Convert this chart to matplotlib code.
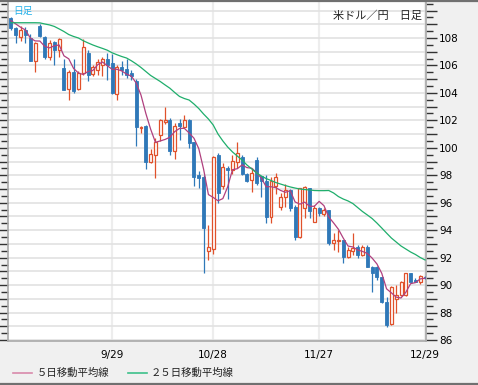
import numpy as np
import pandas as pd
import matplotlib
matplotlib.use("Agg")
import matplotlib.pyplot as plt
from matplotlib.ticker import MultipleLocator, FuncFormatter
from matplotlib.lines import Line2D

plt.rcParams['font.family'] = ['DejaVu Sans', 'Noto Sans CJK JP']

# daily USD/JPY candles, 2008/08/29 .. 2008/12/29
opens = [109.43, 108.75, 108.10, 108.60, 108.00, 106.30, 108.90, 108.10, 106.65, 107.70,
         107.13, 105.80, 104.25, 105.55, 104.25, 105.45, 106.90, 105.40, 105.65, 106.05,
         106.45, 106.20, 103.95, 105.90, 105.75, 105.45, 104.90, 101.45, 101.60, 99.00,
         99.50, 100.90, 101.85, 102.05, 99.80, 101.80, 101.55, 102.05, 100.40, 98.00,
         97.85, 92.45, 92.60, 99.47, 97.20, 98.50, 98.38, 98.99, 99.35, 98.09,
         97.65, 99.10, 97.94, 97.60, 94.98, 97.20, 95.71, 96.39, 96.93, 95.71,
         93.53, 95.59, 97.05, 94.62, 95.59, 95.20, 95.47, 93.10, 93.20, 93.28,
         92.07, 92.45, 92.75, 92.20, 92.75, 91.34, 91.34, 90.57, 88.79, 87.17,
         89.00, 89.28, 89.28, 90.86, 90.40, 90.25, 90.60]
highs = [109.55, 108.80, 108.90, 108.80, 108.30, 107.70, 109.00, 108.15, 107.85, 107.80,
         108.00, 106.50, 105.70, 106.50, 105.60, 107.90, 107.10, 106.05, 106.50, 106.60,
         106.90, 106.80, 106.00, 106.30, 106.50, 105.70, 105.00, 101.60, 101.65, 99.90,
         100.70, 102.10, 102.95, 102.20, 101.80, 102.10, 102.40, 102.10, 100.45, 98.30,
         98.00, 94.40, 99.40, 99.60, 98.90, 98.70, 99.50, 100.45, 99.50, 98.20,
         98.50, 99.30, 97.95, 98.00, 97.90, 98.20, 96.70, 97.40, 97.00, 95.80,
         97.10, 97.20, 97.10, 95.83, 95.70, 95.60, 95.50, 93.77, 94.00, 93.30,
         92.80, 93.77, 92.90, 92.90, 92.90, 91.40, 91.40, 90.60, 89.10, 89.90,
         90.00, 90.30, 90.90, 90.90, 90.50, 90.73, 90.65]
lows = [108.58, 107.65, 107.75, 107.60, 106.30, 105.55, 108.10, 106.50, 106.40, 106.05,
        106.60, 104.20, 103.45, 104.00, 104.20, 105.30, 104.90, 105.20, 105.30, 105.20,
        104.95, 103.90, 103.45, 105.30, 105.10, 104.95, 100.10, 101.05, 98.45, 98.90,
        97.80, 100.50, 101.70, 99.50, 99.20, 100.60, 101.50, 100.00, 97.20, 97.10,
        90.90, 91.80, 92.30, 95.95, 97.00, 96.30, 98.10, 98.50, 98.00, 97.50,
        96.80, 97.30, 96.40, 94.50, 94.50, 96.60, 95.50, 95.70, 95.40, 93.30,
        93.40, 94.90, 94.90, 94.60, 95.00, 95.00, 92.90, 92.56, 92.40, 91.60,
        92.00, 92.20, 92.00, 92.10, 91.30, 89.50, 90.40, 88.70, 86.97, 87.10,
        87.95, 89.20, 89.20, 90.20, 90.20, 90.10, 90.45]
closes = [108.70, 108.20, 108.58, 108.20, 106.35, 107.60, 108.15, 106.65, 107.65, 107.10,
          107.90, 104.20, 105.55, 104.15, 105.45, 107.35, 105.30, 105.90, 106.25, 106.45,
          106.00, 104.00, 105.90, 105.65, 105.30, 105.25, 101.50, 101.50, 99.00, 99.55,
          100.45, 102.00, 102.05, 99.80, 101.60, 101.60, 102.05, 100.35, 97.90, 97.80,
          94.13, 92.80, 99.30, 96.68, 98.60, 98.40, 99.06, 99.64, 98.09, 97.60,
          98.19, 97.46, 97.60, 94.98, 97.60, 97.85, 96.44, 96.93, 95.59, 93.48,
          97.05, 97.17, 95.42, 95.59, 95.27, 95.47, 93.04, 93.28, 93.28, 92.07,
          92.56, 92.70, 92.19, 92.75, 91.34, 90.86, 90.57, 88.79, 87.09, 89.88,
          89.30, 90.25, 90.86, 90.25, 90.25, 90.66, 90.50]

# 25-day moving average as drawn (starts before the first visible candle)
ma25 = [109.11, 109.11, 109.11, 109.11, 109.11, 109.11, 109.10, 109.02, 108.95, 108.84,
        108.66, 108.47, 108.25, 108.11, 108.00, 107.80, 107.64, 107.49, 107.36, 107.24,
        107.11, 106.92, 106.78, 106.65, 106.54, 106.34, 106.11, 105.85, 105.56, 105.27,
        105.05, 104.83, 104.58, 104.34, 104.03, 103.74, 103.59, 103.48, 103.19, 102.86,
        102.46, 102.10, 101.66, 101.00, 100.50, 100.06, 99.70, 99.40, 99.11, 98.75,
        98.46, 98.17, 97.95, 97.76, 97.62, 97.47, 97.36, 97.25, 97.15, 97.07,
        97.00, 96.96, 96.93, 96.89, 96.88, 96.88, 96.89, 96.71, 96.45, 96.27,
        96.13, 95.94, 95.65, 95.36, 95.11, 94.85, 94.52, 94.16, 93.79, 93.43,
        93.14, 92.85, 92.63, 92.41, 92.23, 92.01, 91.83]
# first four 5-day MA points (need closes from before the chart)
ma5_head = [109.26, 109.02, 108.78, 108.58]

date_pos = [21, 42, 64, 86]
date_labels = ['9/29', '10/28', '11/27', '12/29']

ma5 = pd.Series(closes).rolling(5).mean().to_numpy()
ma5[:4] = ma5_head

blue = '#2f78b8'
red = '#e0512b'

fig = plt.figure(figsize=(4.78, 3.85), dpi=100, facecolor='#f0f0f0')
ax = fig.add_axes([8 / 478, 44 / 385, 418 / 478, 339 / 385])
ax.set_facecolor('white')

x = np.arange(len(closes))
o = np.array(opens)
c = np.array(closes)
hi = np.array(highs)
lo = np.array(lows)
up = c >= o

ax.vlines(x[up], lo[up], hi[up], color=red, lw=0.9, zorder=3)
ax.vlines(x[~up], lo[~up], hi[~up], color=blue, lw=0.9, zorder=3)

body_lo = np.minimum(o, c)
body_h = np.maximum(np.abs(c - o), 0.06)
ax.bar(x[up], body_h[up], bottom=body_lo[up], width=0.62, facecolor='white',
       edgecolor=red, linewidth=0.9, zorder=4)
ax.bar(x[~up], body_h[~up], bottom=body_lo[~up], width=0.62, facecolor=blue,
       edgecolor=blue, linewidth=0.6, zorder=4)

ax.plot(x, ma5, color='#b0407f', lw=0.9, zorder=5)
ax.plot(x, ma25, color='#1fae6c', lw=0.9, zorder=5)

ax.set_xlim(-0.62, 86.19)
ax.set_ylim(85.93, 110.62)

ax.yaxis.set_major_locator(MultipleLocator(1))
ax.yaxis.set_minor_locator(MultipleLocator(0.5))
ax.yaxis.set_major_formatter(
    FuncFormatter(lambda v, p: f'{v:.0f}' if round(v) % 2 == 0 and v < 109 else ''))
ax.tick_params(axis='y', which='both', left=True, right=True, labelleft=False,
               labelright=True, direction='out', color='#333333', width=1.0,
               labelsize=7.5, pad=1.5)
ax.tick_params(axis='y', which='major', length=8)
ax.tick_params(axis='y', which='minor', length=5)

ax.set_xticks(date_pos)
ax.set_xticklabels(date_labels)
ax.tick_params(axis='x', length=0, labelsize=7.5, pad=6.5)

ax.grid(axis='y', which='major', color='#e2e2e2', lw=1.2, zorder=0)
ax.grid(axis='x', which='major', color='#ededed', lw=1.6, zorder=0)
ax.set_axisbelow(True)

ax.spines['top'].set_visible(False)
for side in ['left', 'right', 'bottom']:
    ax.spines[side].set_color('#a8a8a8')
    ax.spines[side].set_linewidth(1.2)

ax.text(0.99, 0.975, '米ドル／円　日足', transform=ax.transAxes, ha='right', va='top',
        fontsize=8, family=['Noto Sans CJK JP', 'DejaVu Sans'], color='#222222')
ax.text(0.012, 0.99, '日足', transform=ax.transAxes, ha='left', va='top',
        fontsize=7, family=['Noto Sans CJK JP', 'DejaVu Sans'], color='#22b0ea')

# frame lines of the whole picture
fig.add_artist(Line2D([0, 1], [1 - 1 / 385, 1 - 1 / 385], transform=fig.transFigure,
                      color='#707070', lw=1.6))
fig.add_artist(Line2D([0, 1], [1 / 385, 1 / 385], transform=fig.transFigure,
                      color='#707070', lw=1.6))

# legend along the bottom
ly = 12 / 385
fig.add_artist(Line2D([13 / 478, 32 / 478], [ly, ly], transform=fig.transFigure,
                      color='#d889ab', lw=1.2))
fig.text(37 / 478, ly, '５日移動平均線', ha='left', va='center', fontsize=7.5,
         family=['Noto Sans CJK JP', 'DejaVu Sans'], color='#222222')
fig.add_artist(Line2D([128 / 478, 147 / 478], [ly, ly], transform=fig.transFigure,
                      color='#3cc08a', lw=1.2))
fig.text(151 / 478, ly, '２５日移動平均線', ha='left', va='center', fontsize=7.5,
         family=['Noto Sans CJK JP', 'DejaVu Sans'], color='#222222')

fig.savefig('out.png', dpi=100, facecolor=fig.get_facecolor())
